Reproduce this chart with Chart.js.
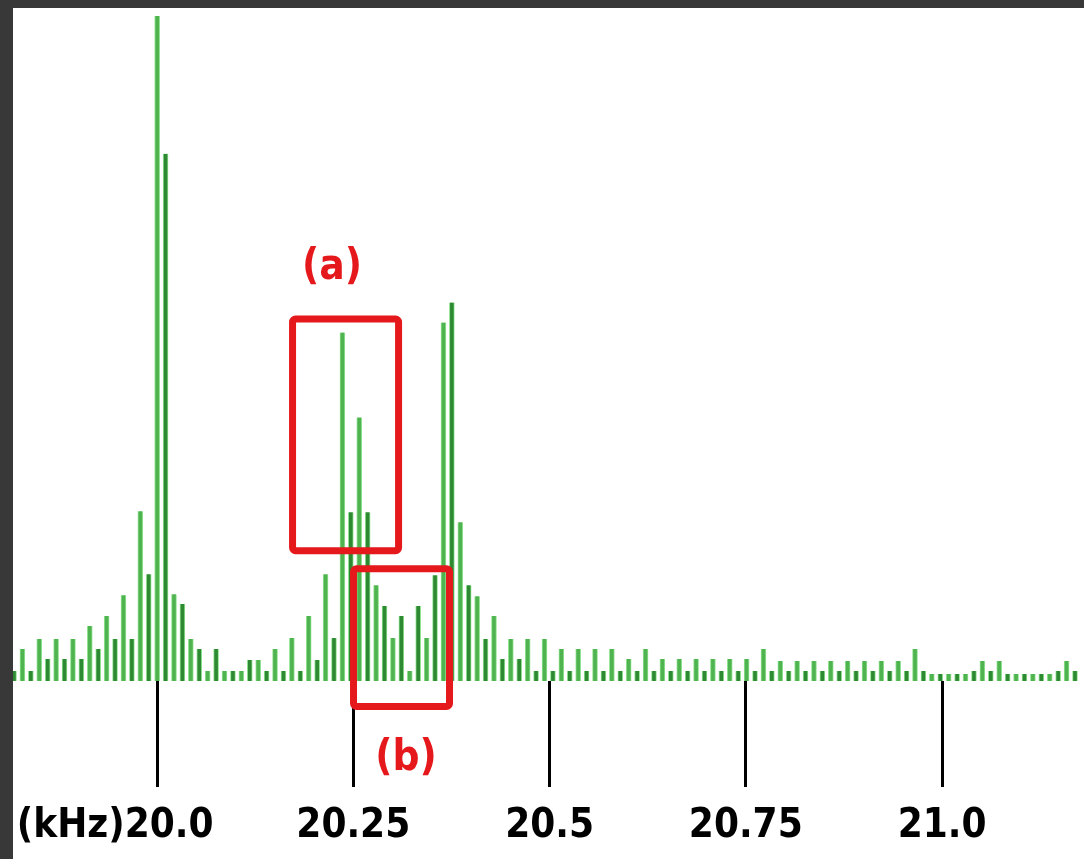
<!DOCTYPE html>
<html>
<head>
<meta charset="utf-8">
<script src="https://cdn.jsdelivr.net/npm/chart.js@4.4.1/dist/chart.umd.min.js"></script>
<style>
    html, body { margin: 0; padding: 0; background: #383838; overflow: hidden; }
    #wrap { position: absolute; left: 13px; top: 8px; width: 1071px; height: 851px; background: #fff; overflow: hidden; }
</style>
</head>
<body>
<div id="wrap"><canvas id="spectrumChart" width="1071" height="860"></canvas></div>
<script>
// Spectrum lines (amplitude in arbitrary units, one per bin)
const amplitudes = [
    10, 32, 10, 42, 22, 42, 22, 42, 22, 55, 32, 65, 42, 86, 42, 170, 107, 666, 528, 87, 77, 42, 32, 10, 32, 10, 10, 10, 21, 21, 10, 32,
    10, 43, 10, 65, 21, 107, 43, 349, 169, 264, 169, 96, 75, 43, 65, 10, 75, 43, 106, 359, 379, 159, 96, 85,
    42, 65, 22, 42, 22, 42, 10, 42, 10, 32, 10, 32, 10, 32, 10, 32, 10, 22, 10, 32, 10, 22, 10,
    22, 10, 22, 10, 22, 10, 22, 10, 22, 10, 32,
    10, 20, 10, 20, 10, 20, 10, 20, 10, 20, 10, 20,
    10, 20, 10, 20, 10, 32,
    10, 7, 7, 7, 7, 7, 10, 20, 10, 20, 7, 7, 7, 7, 7, 7, 10, 20, 10
];
const bins = amplitudes.map((_, i) => i);

// Frequency axis (kHz)
const freqTicks = [20.0, 20.25, 20.5, 20.75, 21.0];
const tickLabels = ['20.0', '20.25', '20.5', '20.75', '21.0'];
const unitLabel = '(kHz)';

const labelFont = { family: "'Liberation Sans Narrow', 'DejaVu Sans Condensed', sans-serif", size: 40, weight: 'bold' };
const tickLen = 106;
const tickPad = 16;

// red highlight boxes, in bin / amplitude units
const highlights = [
    { x1: 33.08, x2: 45.67, y1: 362.5, y2: 130.5 },
    { x1: 40.32, x2: 51.72, y1: 112.5, y2: -25.5 }
];
const highlightTags = [
    { text: '(a)', x: 37.77, y: 414 },
    { text: '(b)', x: 46.56, y: -78 }
];

const overlay = {
    id: 'overlay',
    afterDatasetsDraw(chart) {
        const ctx = chart.ctx;
        const xs = chart.scales.x, ys = chart.scales.y;
        ctx.save();
        ctx.strokeStyle = '#e5191c';
        ctx.lineWidth = 7;
        ctx.lineJoin = 'round';
        highlights.forEach(b => {
            const l = xs.getPixelForValue(b.x1), r = xs.getPixelForValue(b.x2);
            const t = ys.getPixelForValue(b.y1), btm = ys.getPixelForValue(b.y2);
            ctx.beginPath();
            ctx.roundRect(l, t, r - l, btm - t, 3);
            ctx.stroke();
        });
        ctx.fillStyle = '#e5191c';
        ctx.font = `bold 42px ${labelFont.family}`;
        ctx.textAlign = 'center';
        ctx.textBaseline = 'middle';
        highlightTags.forEach(t => {
            ctx.fillText(t.text, xs.getPixelForValue(t.x), ys.getPixelForValue(t.y));
        });
        ctx.restore();
    },
    afterDraw(chart) {
        // first label carries the unit and sits a little right of its tick
        const ctx = chart.ctx;
        const fs = chart.scales.freq;
        ctx.save();
        ctx.font = `bold ${labelFont.size}px ${labelFont.family}`;
        const px = fs.getPixelForValue(freqTicks[0]) + 12;
        const w = ctx.measureText(tickLabels[0]).width;
        const y = fs.top + tickLen + tickPad + labelFont.size * 0.6;
        ctx.fillStyle = '#000';
        ctx.textBaseline = 'middle';
        ctx.textAlign = 'center';
        ctx.fillText(tickLabels[0], px, y);
        ctx.textAlign = 'right';
        ctx.fillText(unitLabel, px - w / 2, y);
        ctx.restore();
    }
};

const ctx = document.getElementById('spectrumChart').getContext('2d');
const spectrumChart = new Chart(ctx, {
    type: 'bar',
    data: {
        labels: bins,
        datasets: [{
            data: amplitudes,
            backgroundColor: bins.map(i => i % 2 ? '#4fb34f' : '#2e8a32'),
            borderColor: '#93e493',
            borderWidth: { left: 1, right: 1, top: 0, bottom: 0 },
            borderSkipped: 'bottom',
            barThickness: 5,
            clip: false
        }]
    },
    options: {
        responsive: false,
        animation: false,
        layout: { padding: { left: 1, right: 9, top: 0, bottom: 1 } },
        plugins: { legend: { display: false }, tooltip: { enabled: false } },
        scales: {
            x: { type: 'category', display: false, offset: false },
            y: { display: false, min: 0, max: 674 },
            freq: {
                type: 'linear',
                axis: 'x',
                position: 'bottom',
                offset: false,
                min: 19.8178,
                max: 21.1694,
                afterBuildTicks: (s) => { s.ticks = freqTicks.map(v => ({ value: v })); },
                grid: { offset: false, drawOnChartArea: false, tickLength: tickLen, tickWidth: 3, tickColor: '#000' },
                border: { display: false },
                ticks: {
                    autoSkip: false,
                    maxRotation: 0,
                    padding: tickPad,
                    color: '#000',
                    font: labelFont,
                    callback: (v, i) => i === 0 ? '' : tickLabels[freqTicks.indexOf(v)]
                }
            }
        }
    },
    plugins: [overlay]
});
</script>
</body>
</html>
